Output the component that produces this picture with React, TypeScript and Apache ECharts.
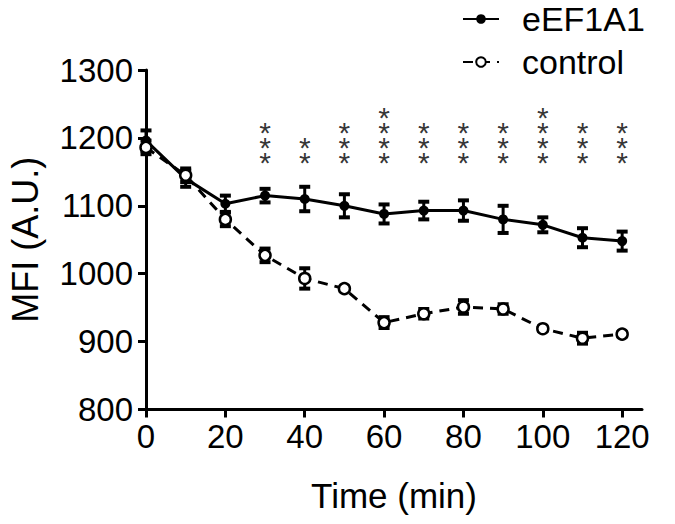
import React, { useEffect, useRef } from "react";
import * as echarts from "echarts";

const times = [0, 10, 20, 30, 40, 50, 60, 70, 80, 90, 100, 110, 120];
const eef1a1Mean = [1196, 1140, 1103, 1115, 1110, 1100, 1088, 1093, 1093, 1080, 1072, 1053, 1048];
const eef1a1Err = [15, 12, 12, 10, 18, 17, 14, 13, 15, 20, 11, 14, 14];
const controlMean = [1186, 1145, 1080, 1027, 993, 978, 928, 941, 951, 948, 919, 905, 911];
const controlErr = [10, 10, 10, 10, 15, 3, 8, 7, 10, 7, 3, 8, 3];
const starTimes = [30, 40, 50, 60, 70, 80, 90, 100, 110, 120];
const starCounts = [3, 2, 3, 4, 3, 3, 3, 4, 3, 3];
const starBase = 1152;
const xTicks = [0, 20, 40, 60, 80, 100, 120];

const FONT = "Liberation Sans, Arial, sans-serif";

function errorSeries(mean: number[], err: number[], name: string) {
  return {
    type: "custom",
    name: name + "_err",
    z: 3,
    silent: true,
    data: times.map((t, i) => [t, mean[i] - err[i], mean[i] + err[i]]),
    renderItem: (params: any, api: any) => {
      const lo = api.coord([api.value(0), api.value(1)]);
      const hi = api.coord([api.value(0), api.value(2)]);
      const capW = 11;
      const capH = 4;
      return {
        type: "group",
        children: [
          {
            type: "line",
            shape: { x1: lo[0], y1: lo[1], x2: hi[0], y2: hi[1] },
            style: { stroke: "#000", lineWidth: 3 },
          },
          {
            type: "rect",
            shape: { x: hi[0] - capW / 2, y: hi[1] - capH / 2, width: capW, height: capH },
            style: { fill: "#000" },
          },
          {
            type: "rect",
            shape: { x: lo[0] - capW / 2, y: lo[1] - capH / 2, width: capW, height: capH },
            style: { fill: "#000" },
          },
        ],
      };
    },
  };
}

export default function App() {
  const ref = useRef<HTMLDivElement>(null);
  useEffect(() => {
    if (!ref.current) return;
    const chart = echarts.init(ref.current, null, { renderer: "svg" });
    chart.setOption({
      animation: false,
      textStyle: { fontFamily: FONT },
      grid: {
        left: 146,
        right: 33,
        top: 70,
        bottom: 114.5,
        containLabel: false,
        outerBoundsMode: "none",
      },
      legend: {
        orient: "vertical",
        left: 462,
        top: 2,
        padding: 0,
        itemGap: 9,
        itemWidth: 36,
        itemHeight: 12,
        textStyle: { fontSize: 34, lineHeight: 34, color: "#000", fontFamily: FONT, padding: [0, 0, 0, 18] },
        data: ["eEF1A1", "control"],
      },
      xAxis: {
        type: "value",
        min: 0,
        max: 125,
        name: "Time (min)",
        nameLocation: "middle",
        nameGap: 68,
        nameTextStyle: { fontSize: 35, color: "#000", fontFamily: FONT },
        axisLine: { show: true, lineStyle: { color: "#000", width: 3 } },
        axisTick: { show: true, length: 8, lineStyle: { color: "#000", width: 3 }, customValues: xTicks },
        axisLabel: { fontSize: 33, color: "#000", margin: 10, customValues: xTicks, fontFamily: FONT },
        splitLine: { show: false },
      },
      yAxis: {
        type: "value",
        min: 800,
        max: 1300,
        interval: 100,
        name: "MFI (A.U.)",
        nameLocation: "middle",
        nameGap: 103,
        nameRotate: 90,
        nameTextStyle: { fontSize: 36, lineHeight: 36, color: "#000", fontFamily: FONT },
        axisLine: { show: true, lineStyle: { color: "#000", width: 3 } },
        axisTick: { show: true, length: 8, lineStyle: { color: "#000", width: 3 } },
        axisLabel: { fontSize: 33, color: "#000", margin: 13, fontFamily: FONT, formatter: (v: number) => String(v) },
        splitLine: { show: false },
      },
      series: [
        errorSeries(eef1a1Mean, eef1a1Err, "eEF1A1"),
        errorSeries(controlMean, controlErr, "control"),
        {
          type: "line",
          name: "eEF1A1",
          z: 4,
          data: times.map((t, i) => [t, eef1a1Mean[i]]),
          symbol: "circle",
          symbolSize: 10,
          itemStyle: { color: "#000" },
          lineStyle: { color: "#000", width: 3 },
        },
        {
          type: "line",
          name: "control",
          z: 5,
          data: times.map((t, i) => [t, controlMean[i]]),
          symbol: "circle",
          symbolSize: 11,
          showAllSymbol: true,
          itemStyle: { color: "#fff", borderColor: "#000", borderWidth: 2.5 },
          lineStyle: { color: "#000", width: 3, type: [10, 7] },
        },
        {
          type: "scatter",
          name: "stars",
          z: 6,
          symbolSize: 0,
          silent: true,
          data: starTimes.map((t, i) => [t, starBase, starCounts[i]]),
          label: {
            show: true,
            position: "top",
            distance: 0,
            fontSize: 30,
            lineHeight: 15,
            color: "#000",
            fontFamily: FONT,
            formatter: (p: any) => Array(p.value[2]).fill("*").join("\n"),
          },
        },
      ],
    });
    return () => chart.dispose();
  }, []);
  return <div ref={ref} style={{ width: 675, height: 524, margin: "-8px 0 0 -8px" }} />;
}
